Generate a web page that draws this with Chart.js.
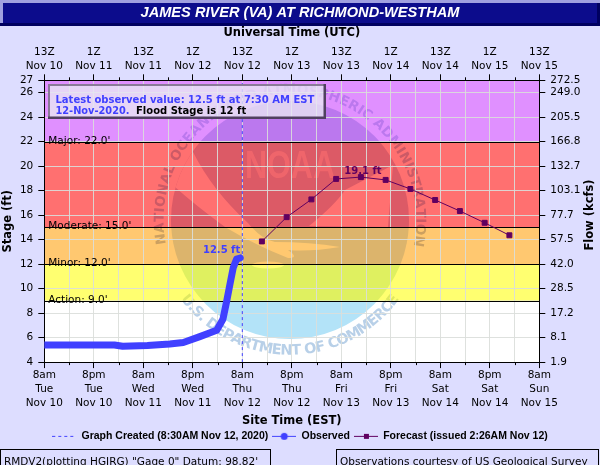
<!DOCTYPE html>
<html lang="en">
<head>
    <meta charset="UTF-8">
    <title>James River at Richmond-Westham</title>
    <script src="https://cdn.jsdelivr.net/npm/chart.js"></script>
    <style>
        html, body { margin: 0; padding: 0; background: #ddddff; }
        canvas { display: block; }
    </style>
</head>
<body>
    <canvas id="stageChart" width="600" height="465"></canvas>
    <script>
        // hours since 8am Nov 10 (EST)
        const obsHours = [0, 12, 17, 19, 25, 30.4, 33.7, 37.7, 41.8, 43.3, 44.2, 45, 45.8, 46.6, 47.5];
        const obsStage = [5.4, 5.4, 5.4, 5.3, 5.35, 5.48, 5.6, 6.08, 6.6, 7.5, 8.95, 10.35, 11.7, 12.4, 12.5];
        const fcstHours = [52.75, 58.75, 64.75, 70.75, 76.75, 82.75, 88.75, 94.75, 100.75, 106.75, 112.75];
        const fcstStage = [13.85, 15.83, 17.28, 18.95, 19.1, 18.87, 18.13, 17.23, 16.33, 15.37, 14.35];
        const createdHour = 48;

        const stageTicks = [4, 6, 8, 10, 12, 14, 16, 18, 20, 22, 24, 26, 27];
        const flowTicks = ['1.9', '8.1', '17.2', '28.5', '42.0', '57.5', '77.7', '103.1', '132.7', '166.8', '205.5', '249.0', '272.5'];

        const siteTimeLabels = [
            ['8am', 'Tue', 'Nov 10'], ['8pm', 'Tue', 'Nov 10'], ['8am', 'Wed', 'Nov 11'], ['8pm', 'Wed', 'Nov 11'],
            ['8am', 'Thu', 'Nov 12'], ['8pm', 'Thu', 'Nov 12'], ['8am', 'Fri', 'Nov 13'], ['8pm', 'Fri', 'Nov 13'],
            ['8am', 'Sat', 'Nov 14'], ['8pm', 'Sat', 'Nov 14'], ['8am', 'Sun', 'Nov 15']
        ];
        const utcLabels = [
            ['13Z', 'Nov 10'], ['1Z', 'Nov 11'], ['13Z', 'Nov 11'], ['1Z', 'Nov 12'], ['13Z', 'Nov 12'], ['1Z', 'Nov 13'],
            ['13Z', 'Nov 13'], ['1Z', 'Nov 14'], ['13Z', 'Nov 14'], ['1Z', 'Nov 15'], ['13Z', 'Nov 15']
        ];

        // flood categories, top to bottom
        const bandTops = [27, 22, 15, 12, 9];
        const bandBottoms = [22, 15, 12, 9, 4];
        const bandColors = ['#e090ff', '#ff7070', '#ffc870', '#ffff70', '#ffffff'];
        const bandTints = ['#bb78ee', '#dc5a66', '#dcb46c', '#dff060', '#b3e3f8'];
        const ringTints = ['#bb78ee', '#cc5a66', '#ccA060', '#dfe860', '#b8d0e8'];
        const stageNames = ['Major: 22.0\'', 'Moderate: 15.0\'', 'Minor: 12.0\'', 'Action: 9.0\''];
        const stageLevels = [22, 15, 12, 9];

        const blue = '#4040ff';
        const purple = '#600060';
        const textFont = '"DejaVu Sans", sans-serif';

        // draws text along a circle, top of the letters outward or inward
        const arcText = (ctx, text, cx, cy, r, startDeg, endDeg, outward) => {
            const widths = [...text].map(c => ctx.measureText(c).width);
            const total = widths.reduce((a, b) => a + b, 0);
            const sweep = (endDeg - startDeg) * Math.PI / 180;
            let used = 0;
            [...text].forEach((c, i) => {
                const a = startDeg * Math.PI / 180 + sweep * (used + widths[i] / 2) / total;
                ctx.save();
                ctx.translate(cx + r * Math.cos(a), cy + r * Math.sin(a));
                ctx.rotate(outward ? a + Math.PI / 2 : a - Math.PI / 2);
                ctx.fillText(c, 0, 0);
                ctx.restore();
                used += widths[i];
            });
        };

        // NOAA seal behind the bands, recoloured for each band
        const drawSeal = (ctx, i) => {
            const cx = 290, cy = 220, r = 119;
            ctx.save();
            ctx.beginPath();
            ctx.arc(cx, cy, r, 0, Math.PI * 2);
            ctx.fillStyle = bandTints[i];
            ctx.fill();
            ctx.clip();
            ctx.fillStyle = bandColors[i];
            ctx.beginPath();
            ctx.moveTo(193, 152);
            ctx.quadraticCurveTo(212, 190, 248, 223);
            ctx.quadraticCurveTo(262, 240, 275, 242);
            ctx.quadraticCurveTo(310, 242, 340, 247);
            ctx.quadraticCurveTo(310, 252, 288, 250);
            ctx.quadraticCurveTo(300, 258, 288, 258);
            ctx.quadraticCurveTo(255, 245, 225, 227);
            ctx.quadraticCurveTo(195, 205, 175, 187);
            ctx.lineTo(165, 150);
            ctx.closePath();
            ctx.fill();
            ctx.beginPath();
            ctx.moveTo(309, 226);
            ctx.quadraticCurveTo(335, 205, 345, 190);
            ctx.lineTo(393, 165);
            ctx.lineTo(388, 227);
            ctx.closePath();
            ctx.fill();
            ctx.beginPath();
            ctx.ellipse(268, 265, 16, 3.5, 0, 0, Math.PI * 2);
            ctx.fill();
            ctx.globalAlpha = 0.55;
            ctx.font = 'bold 38px "Liberation Sans", sans-serif';
            ctx.textAlign = 'left';
            ctx.textBaseline = 'alphabetic';
            ctx.fillText('NOAA', 245, 178, 90);
            ctx.restore();

            ctx.save();
            ctx.fillStyle = ringTints[i];
            ctx.textAlign = 'center';
            ctx.textBaseline = 'middle';
            ctx.font = 'bold 13.5px ' + textFont;
            arcText(ctx, 'NATIONAL OCEANIC AND ATMOSPHERIC ADMINISTRATION', cx, cy, 130, 169, 372, true);
            ctx.font = 'bold 14.5px ' + textFont;
            arcText(ctx, 'U.S. DEPARTMENT OF COMMERCE', cx, cy, 131, 144, 36, false);
            ctx.restore();
        };

        const backdropPlugin = {
            id: 'backdrop',
            beforeDraw(chart) {
                const { ctx, chartArea: area, scales } = chart;
                const y = scales.y;

                // title bar bevel
                ctx.fillStyle = '#a0a0e0';
                ctx.fillRect(0, 0, 600, 3);
                ctx.fillRect(0, 3, 3, 22);
                ctx.fillStyle = '#000060';
                ctx.fillRect(0, 23, 600, 3);
                ctx.fillRect(597, 3, 3, 22);
                ctx.fillStyle = '#0c0c8c';
                ctx.fillRect(3, 3, 594, 20);

                bandTops.forEach((top, i) => {
                    const y1 = y.getPixelForValue(top);
                    const y2 = y.getPixelForValue(bandBottoms[i]);
                    ctx.save();
                    ctx.beginPath();
                    ctx.rect(area.left, y1, area.right - area.left, y2 - y1);
                    ctx.clip();
                    ctx.fillStyle = bandColors[i];
                    ctx.fillRect(area.left, y1, area.right - area.left, y2 - y1);
                    drawSeal(ctx, i);
                    ctx.restore();
                });
            },
            beforeDatasetsDraw(chart) {
                const { ctx, chartArea: area, scales } = chart;
                // flood stage lines go over the grid
                ctx.save();
                ctx.strokeStyle = '#000';
                ctx.fillStyle = '#000';
                ctx.lineWidth = 1;
                ctx.font = '10.5px ' + textFont;
                stageLevels.forEach((level, i) => {
                    const py = Math.round(scales.y.getPixelForValue(level)) + 0.5;
                    ctx.beginPath();
                    ctx.moveTo(area.left, py);
                    ctx.lineTo(area.right, py);
                    ctx.stroke();
                    ctx.fillText(stageNames[i], area.left + 4, py - 1.5);
                });
                // short ticks between the labelled ones
                [scales.x, scales.x2].forEach(s => {
                    s.ticks.forEach(t => {
                        if (t.value % 12 === 0) return;
                        const px = Math.round(s.getPixelForValue(t.value)) + 0.5;
                        ctx.beginPath();
                        ctx.moveTo(px, s === scales.x ? area.bottom : area.top);
                        ctx.lineTo(px, s === scales.x ? area.bottom + 3 : area.top - 3);
                        ctx.stroke();
                    });
                });
                ctx.restore();
            },
            afterDraw(chart) {
                const { ctx, scales } = chart;
                ctx.save();

                // latest value box
                ctx.fillStyle = 'rgba(232, 232, 244, 0.78)';
                ctx.fillRect(49, 85, 276, 33);
                ctx.fillStyle = '#8a7a98';
                ctx.fillRect(48, 84, 278, 2);
                ctx.fillRect(48, 84, 2, 34);
                ctx.fillStyle = '#504060';
                ctx.fillRect(48, 116.5, 278, 2.5);
                ctx.fillRect(323.5, 84, 2.5, 35);

                ctx.font = 'bold 10px ' + textFont;
                ctx.fillStyle = blue;
                ctx.fillText('Latest observed value: 12.5 ft at 7:30 AM EST', 55.5, 100, 263);
                ctx.fillText('12-Nov-2020.', 55.5, 111.5, 74);
                ctx.fillStyle = '#000';
                ctx.fillText('Flood Stage is 12 ft', 136, 111.5, 113);

                // point labels
                ctx.textAlign = 'right';
                ctx.fillStyle = blue;
                ctx.fillText(obsStage[obsStage.length - 1] + ' ft', scales.x.getPixelForValue(47.5), 250.5);
                ctx.textAlign = 'center';
                ctx.fillStyle = purple;
                ctx.fillText('19.1 ft', scales.x.getPixelForValue(fcstHours[4]) + 2, 171);

                // flow axis title reads upward
                ctx.save();
                ctx.translate(590, 215);
                ctx.rotate(-Math.PI / 2);
                ctx.font = 'bold 11.5px ' + textFont;
                ctx.fillStyle = '#000';
                ctx.textBaseline = 'middle';
                ctx.fillText('Flow (kcfs)', 0, 0);
                ctx.restore();

                // footer boxes
                ctx.textAlign = 'left';
                ctx.fillStyle = '#000';
                ctx.strokeStyle = '#000';
                ctx.lineWidth = 1;
                ctx.font = '10.5px ' + textFont;
                ctx.strokeRect(0.5, 449.5, 270, 20);
                ctx.strokeRect(336.5, 449.5, 262, 20);
                ctx.fillText('RMDV2(plotting HGIRG) "Gage 0" Datum: 98.82\'', 4, 462, 263);
                ctx.fillText('Observations courtesy of US Geological Survey', 340, 462, 256);
                ctx.restore();
            }
        };

        // legend swatches: a short line with its marker
        const swatch = (draw) => {
            const c = document.createElement('canvas');
            c.width = 24;
            c.height = 10;
            draw(c.getContext('2d'));
            return c;
        };
        const dashSwatch = swatch(g => {
            g.strokeStyle = blue;
            g.setLineDash([3, 3]);
            g.beginPath();
            g.moveTo(0, 5.5);
            g.lineTo(24, 5.5);
            g.stroke();
        });
        const obsSwatch = swatch(g => {
            g.strokeStyle = blue;
            g.fillStyle = blue;
            g.beginPath();
            g.moveTo(0, 5.5);
            g.lineTo(24, 5.5);
            g.stroke();
            g.beginPath();
            g.arc(12, 5.5, 3.5, 0, Math.PI * 2);
            g.fill();
        });
        const fcstSwatch = swatch(g => {
            g.strokeStyle = purple;
            g.fillStyle = purple;
            g.beginPath();
            g.moveTo(0, 5.5);
            g.lineTo(24, 5.5);
            g.stroke();
            g.fillRect(10, 3, 5, 5);
        });
        const swatches = [dashSwatch, obsSwatch, fcstSwatch];

        const ctx = document.getElementById('stageChart').getContext('2d');
        const stageChart = new Chart(ctx, {
            type: 'line',
            data: {
                datasets: [
                    {
                        label: 'Graph Created (8:30AM Nov 12, 2020)',
                        data: [{ x: createdHour, y: 4 }, { x: createdHour, y: 27 }],
                        borderColor: blue,
                        borderWidth: 1,
                        borderDash: [3, 3],
                        pointRadius: 0
                    },
                    {
                        label: 'Observed',
                        data: obsHours.map((h, i) => ({ x: h, y: obsStage[i] })),
                        borderColor: blue,
                        borderWidth: 7,
                        borderCapStyle: 'round',
                        borderJoinStyle: 'round',
                        pointRadius: 0
                    },
                    {
                        label: 'Forecast (issued 2:26AM Nov 12)',
                        data: fcstHours.map((h, i) => ({ x: h, y: fcstStage[i] })),
                        borderColor: purple,
                        backgroundColor: purple,
                        borderWidth: 1,
                        pointStyle: 'rect',
                        pointRadius: 3.5
                    }
                ]
            },
            options: {
                responsive: false,
                animation: false,
                layout: { padding: { bottom: 13.9 } },
                scales: {
                    x: {
                        type: 'linear',
                        position: 'bottom',
                        min: 0,
                        max: 120,
                        afterFit: s => { s.height = 64.5; },
                        border: { color: '#000' },
                        grid: {
                            color: 'rgba(218, 222, 218, 0.9)',
                            tickLength: 6,
                            tickColor: c => (c.tick && c.tick.value % 12 === 0 ? '#000' : 'transparent')
                        },
                        title: {
                            display: true,
                            text: 'Site Time (EST)',
                            color: '#000',
                            font: { family: textFont, size: 11.5, weight: 'bold', lineHeight: 1 },
                            padding: 0
                        },
                        ticks: {
                            stepSize: 6,
                            autoSkip: false,
                            maxRotation: 0,
                            padding: 0,
                            color: '#000',
                            font: { family: textFont, size: 10.5, lineHeight: 1.333 },
                            callback: v => (v % 12 === 0 ? siteTimeLabels[v / 12] : '')
                        }
                    },
                    x2: {
                        type: 'linear',
                        position: 'top',
                        min: 0,
                        max: 120,
                        afterFit: s => { s.height = 54.3; },
                        border: { color: '#000' },
                        grid: {
                            drawOnChartArea: false,
                            tickLength: 6,
                            tickColor: c => (c.tick && c.tick.value % 12 === 0 ? '#000' : 'transparent')
                        },
                        title: {
                            display: true,
                            text: 'Universal Time (UTC)',
                            color: '#000',
                            font: { family: textFont, size: 11.5, weight: 'bold', lineHeight: 1 },
                            padding: { top: 1, bottom: 0 }
                        },
                        ticks: {
                            stepSize: 6,
                            autoSkip: false,
                            maxRotation: 0,
                            padding: 1,
                            color: '#000',
                            font: { family: textFont, size: 10.5, lineHeight: 1.333 },
                            callback: v => (v % 12 === 0 ? utcLabels[v / 12] : '')
                        }
                    },
                    y: {
                        position: 'left',
                        min: 4,
                        max: 27,
                        afterFit: s => { s.width = 44.3; },
                        afterBuildTicks: s => { s.ticks = stageTicks.map(v => ({ value: v })); },
                        border: { color: '#000' },
                        grid: { color: 'rgba(218, 222, 218, 0.9)', tickLength: 6, tickColor: '#000' },
                        title: {
                            display: true,
                            text: 'Stage (ft)',
                            color: '#000',
                            font: { family: textFont, size: 11.5, weight: 'bold', lineHeight: 1 },
                            padding: { top: 2, bottom: 0 }
                        },
                        ticks: {
                            autoSkip: false,
                            padding: 5,
                            color: '#000',
                            font: { family: textFont, size: 10.5 },
                            callback: v => v
                        }
                    },
                    y2: {
                        position: 'right',
                        min: 4,
                        max: 27,
                        afterFit: s => { s.width = 60.7; },
                        afterBuildTicks: s => { s.ticks = stageTicks.map(v => ({ value: v })); },
                        border: { color: '#000' },
                        grid: { drawOnChartArea: false, tickLength: 6, tickColor: '#000' },
                        ticks: {
                            autoSkip: false,
                            padding: 5,
                            color: '#000',
                            font: { family: textFont, size: 10.5 },
                            callback: v => flowTicks[stageTicks.indexOf(v)]
                        }
                    }
                },
                plugins: {
                    title: {
                        display: true,
                        text: 'JAMES RIVER (VA) AT RICHMOND-WESTHAM',
                        color: '#fff',
                        font: { family: '"Liberation Sans", sans-serif', size: 14.6, weight: 'bold', style: 'italic', lineHeight: 1.233 },
                        padding: { top: 4, bottom: 4 }
                    },
                    legend: {
                        position: 'bottom',
                        labels: {
                            usePointStyle: true,
                            pointStyleWidth: 24,
                            padding: 4,
                            color: '#000',
                            font: { family: '"Liberation Sans", sans-serif', size: 10.5, weight: 'bold' },
                            generateLabels: chart => chart.data.datasets.map((d, i) => ({
                                text: d.label,
                                pointStyle: swatches[i],
                                datasetIndex: i,
                                lineWidth: 0,
                                fontColor: '#000'
                            }))
                        }
                    },
                    tooltip: { enabled: false }
                }
            },
            plugins: [backdropPlugin]
        });
    </script>
</body>
</html>
